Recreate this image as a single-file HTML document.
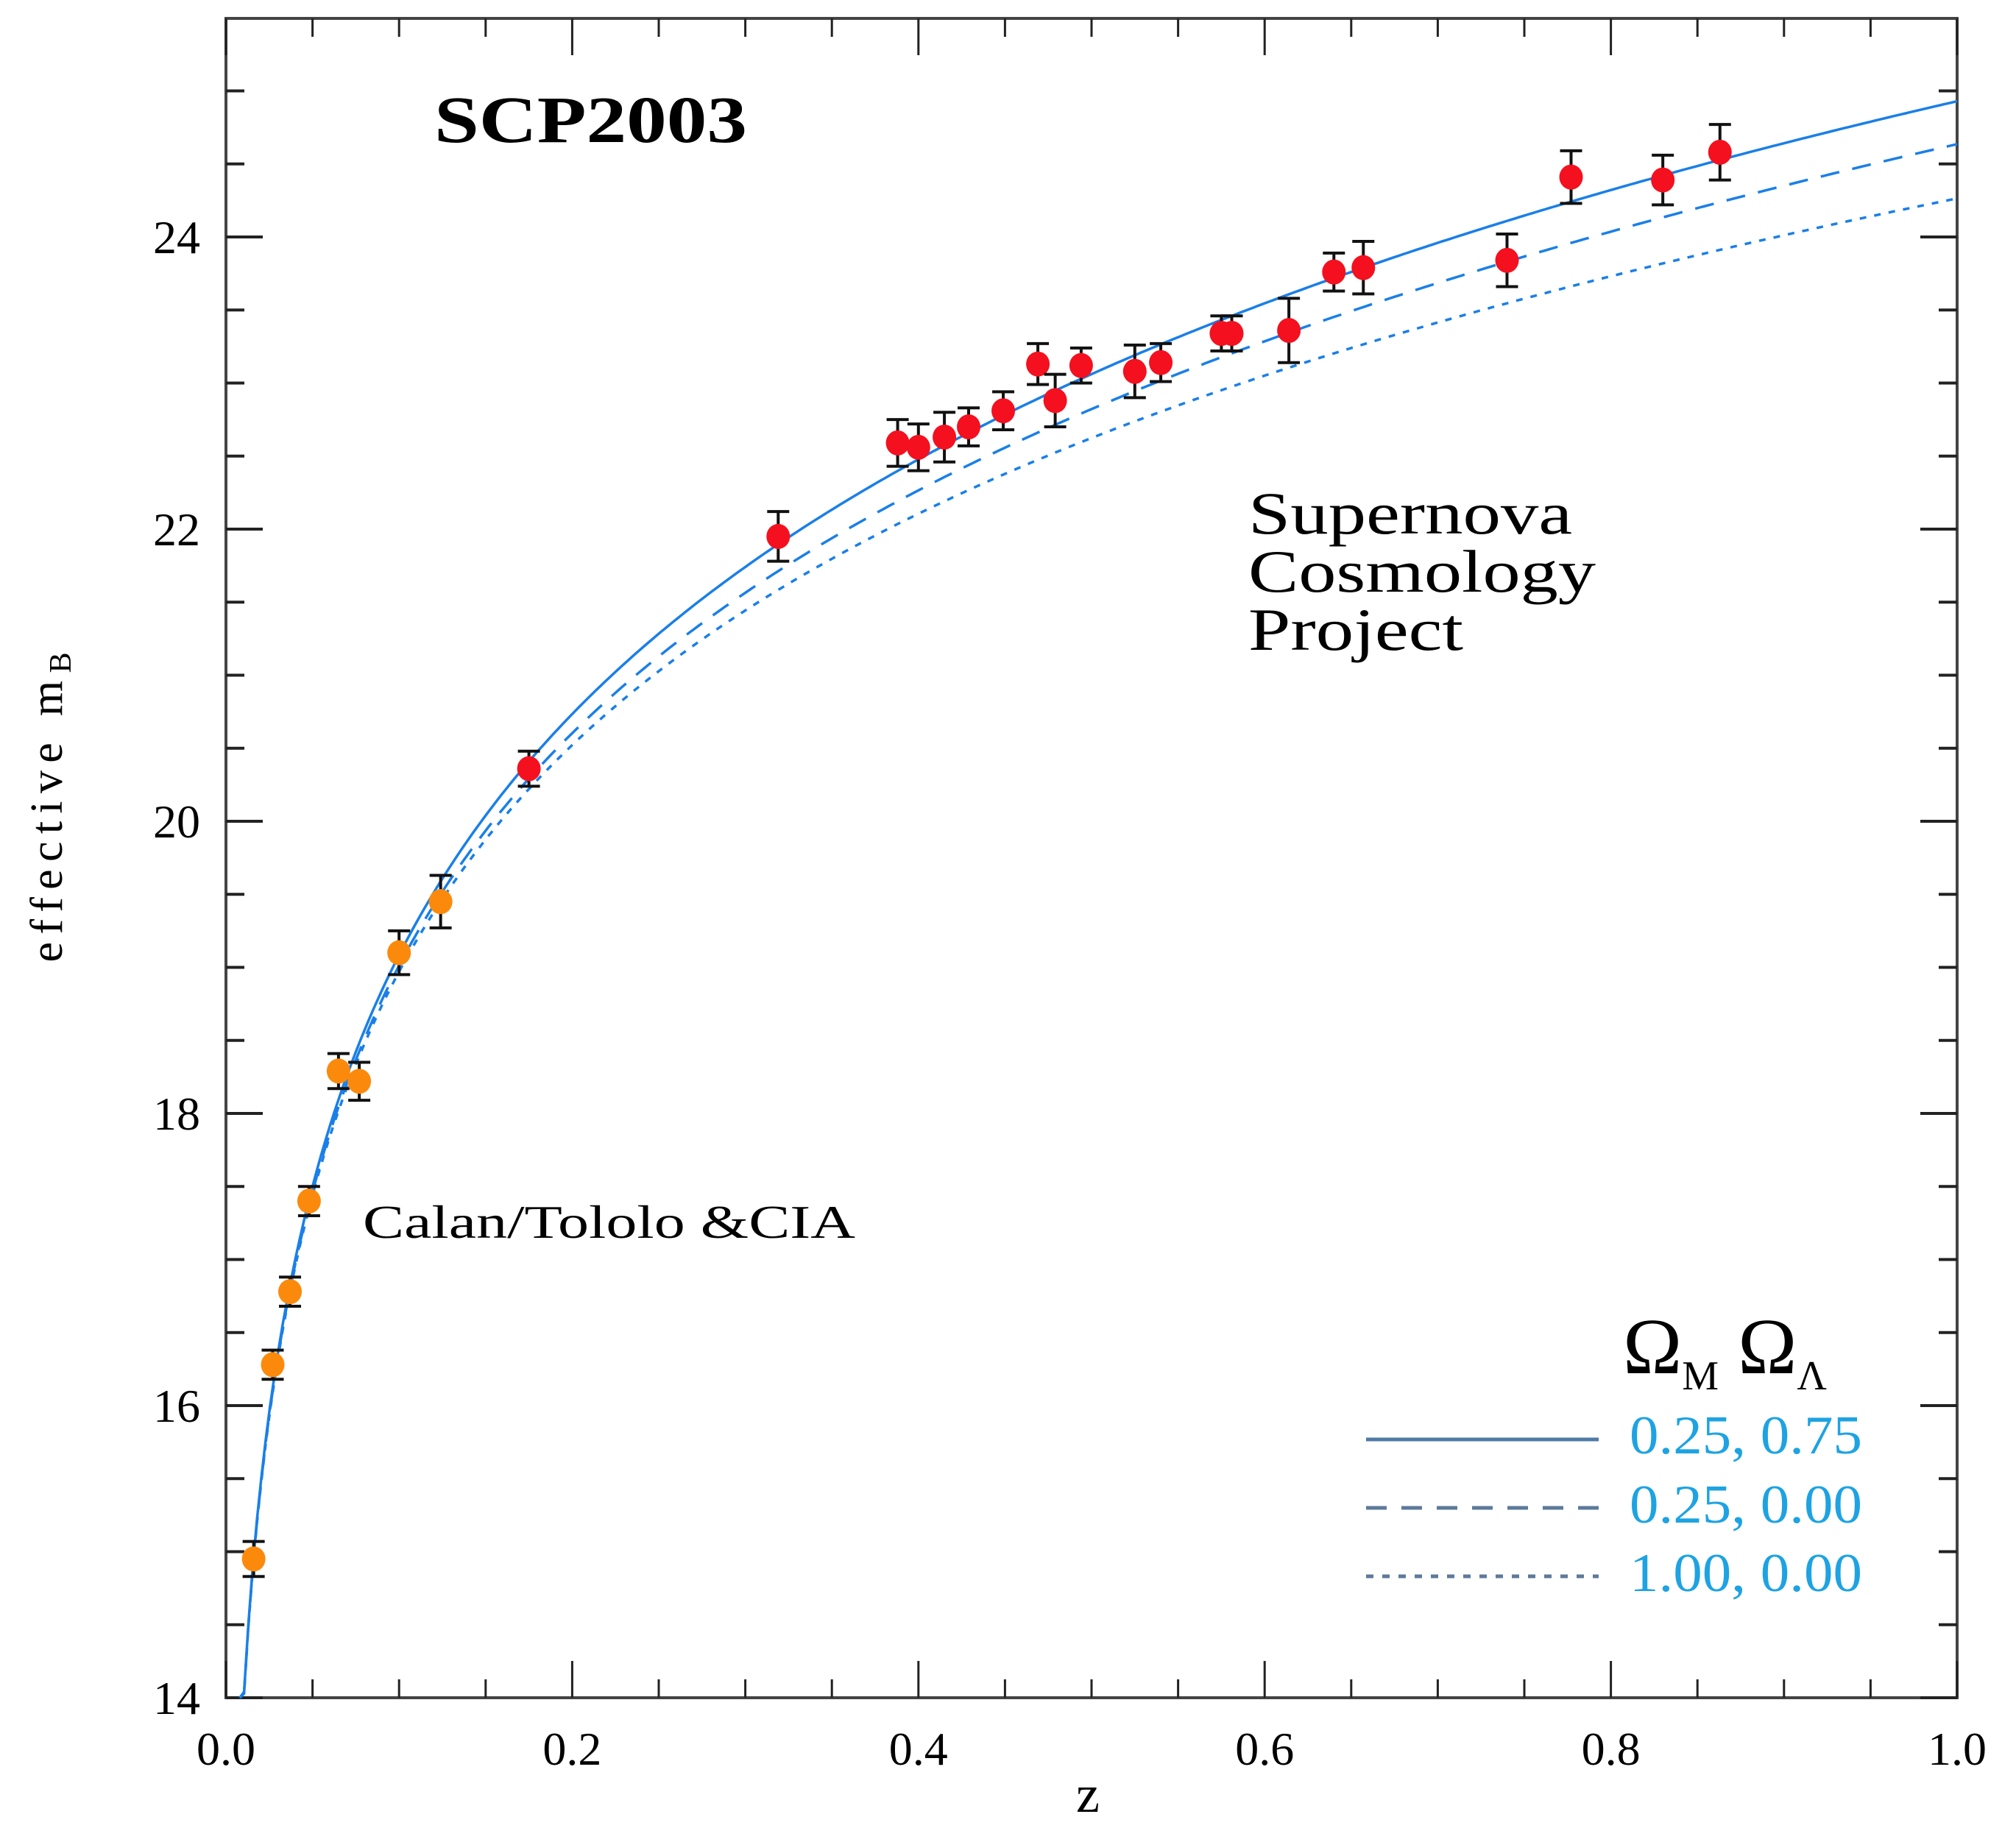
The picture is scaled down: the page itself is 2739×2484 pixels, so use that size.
<!DOCTYPE html>
<html><head><meta charset="utf-8"><title>SCP2003 Hubble diagram</title>
<style>html,body{margin:0;padding:0;background:#fff}svg{display:block}text{font-family:"Liberation Serif",serif}</style>
</head><body>
<svg id="chart" width="2739" height="2484" viewBox="0 0 2739 2484" xmlns="http://www.w3.org/2000/svg">
<rect x="0" y="0" width="2739" height="2484" fill="#fff"/>
<g id="axes"></g><g id="curves"></g><g id="points"></g>
<text x="590" y="193" font-size="90" font-weight="bold" textLength="425" lengthAdjust="spacingAndGlyphs">SCP2003</text>
<text x="1696" y="725" font-size="82" textLength="440" lengthAdjust="spacingAndGlyphs">Supernova</text>
<text x="1696" y="804" font-size="82" textLength="472" lengthAdjust="spacingAndGlyphs">Cosmology</text>
<text x="1696" y="883" font-size="82" textLength="292" lengthAdjust="spacingAndGlyphs">Project</text>
<text x="493" y="1682" font-size="64" textLength="669" lengthAdjust="spacingAndGlyphs">Calan/Tololo &amp;CIA</text>
<text transform="translate(84,1097) rotate(-90)" text-anchor="middle" font-size="62" textLength="421" lengthAdjust="spacing">effective m<tspan font-size="42" dy="12">B</tspan></text>
<text x="1478" y="2462" text-anchor="middle" font-size="72">z</text>
<g>
<text x="2205" y="1866" font-size="108">Ω<tspan font-size="56" dy="22">M</tspan><tspan dx="26" dy="-22">Ω</tspan><tspan font-size="56" dy="22">Λ</tspan></text>
<line x1="1856" y1="1956" x2="2172" y2="1956" stroke="#4f7ba6" stroke-width="5"/>
<line x1="1856" y1="2049" x2="2172" y2="2049" stroke="#5c7a9a" stroke-width="5" stroke-dasharray="28,20"/>
<line x1="1856" y1="2142" x2="2172" y2="2142" stroke="#5c7a9a" stroke-width="5" stroke-dasharray="10,12"/>
<text x="2214" y="1975" font-size="74" fill="#1ea3e2" textLength="316" lengthAdjust="spacingAndGlyphs">0.25, 0.75</text>
<text x="2214" y="2069" font-size="74" fill="#1ea3e2" textLength="316" lengthAdjust="spacingAndGlyphs">0.25, 0.00</text>
<text x="2214" y="2162" font-size="74" fill="#1ea3e2" textLength="316" lengthAdjust="spacingAndGlyphs">1.00, 0.00</text>
</g>
</svg>
<script>
const xTicks = [0.0, 0.2, 0.4, 0.6, 0.8, 1.0];
const xTickLabels = ["0.0", "0.2", "0.4", "0.6", "0.8", "1.0"];
const yTicks = [14, 16, 18, 20, 22, 24];
const yTickLabels = ["14", "16", "18", "20", "22", "24"];
const lowZ = [0.016, 0.027, 0.037, 0.048, 0.065, 0.077, 0.100, 0.124];
const lowM = [14.95, 16.28, 16.78, 17.40, 18.29, 18.22, 19.10, 19.45];
const lowErr = [0.12, 0.10, 0.10, 0.10, 0.12, 0.13, 0.15, 0.18];
const highZ = [0.175, 0.319, 0.388, 0.400, 0.415, 0.429, 0.449, 0.469, 0.479, 0.494, 0.525, 0.540, 0.575, 0.581, 0.614, 0.640, 0.657, 0.740, 0.777, 0.830, 0.863];
const highM = [20.36, 21.95, 22.59, 22.56, 22.63, 22.70, 22.81, 23.13, 22.88, 23.12, 23.08, 23.14, 23.34, 23.34, 23.36, 23.76, 23.79, 23.84, 24.41, 24.39, 24.58];
const highErr = [0.12, 0.17, 0.16, 0.16, 0.17, 0.13, 0.13, 0.14, 0.18, 0.12, 0.18, 0.13, 0.12, 0.12, 0.22, 0.13, 0.18, 0.18, 0.18, 0.17, 0.19];
const modelOmegaM = [0.25, 0.25, 1.00];
const modelOmegaL = [0.75, 0.00, 0.00];
const modelMag0 = 23.92;

const X0 = 307, X1 = 2659, Y14 = 2307, PXU = 198.5, YTOP = 25;
const sx = z => X0 + z * (X1 - X0);
const sy = m => Y14 - (m - 14) * PXU;
const NS = "http://www.w3.org/2000/svg";
function mk(tag, attrs, parent) { const e = document.createElementNS(NS, tag); for (const k in attrs) e.setAttribute(k, attrs[k]); parent.appendChild(e); return e; }

const axes = document.getElementById('axes');
const frame = mk('rect', {x: X0, y: YTOP, width: X1 - X0, height: Y14 - YTOP, fill: 'none', stroke: '#444', 'stroke-width': 4}, axes);


for (let i = 0; i <= 20; i++) {
  const z = i * 0.05, x = sx(z), L = (i % 4 === 0) ? 50 : 25;
  const t1 = mk('line', {x1: x, y1: Y14, x2: x, y2: Y14 - L, stroke: '#222', 'stroke-width': 3}, axes);
  
  
  const t2 = mk('line', {x1: x, y1: YTOP, x2: x, y2: YTOP + L, stroke: '#222', 'stroke-width': 3}, axes);
  
  
}
for (let i = 0; i <= 22; i++) {
  const m = 14 + i * 0.5, y = sy(m);
  if (y < YTOP) continue;
  const L = (i % 4 === 0) ? 50 : 25;
  const t1 = mk('line', {x1: X0, y1: y, x2: X0 + L, y2: y, stroke: '#222', 'stroke-width': 4}, axes);
  
  
  const t2 = mk('line', {x1: X1, y1: y, x2: X1 - L, y2: y, stroke: '#222', 'stroke-width': 4}, axes);
  
  
}
xTicks.forEach((z, i) => {
  const t = mk('text', {x: sx(z), y: 2398, 'text-anchor': 'middle', 'font-size': 64}, axes);
  t.textContent = xTickLabels[i];
  
  
});
yTicks.forEach((m, i) => {
  const t = mk('text', {x: 272, y: sy(m) + 22, 'text-anchor': 'end', 'font-size': 64}, axes);
  t.textContent = yTickLabels[i];
  
  
});

function lumDist(z, om, ol) {
  const ok = 1 - om - ol, n = 200; let s = 0;
  for (let i = 0; i < n; i++) {
    const zz = (i + 0.5) * z / n;
    s += 1 / Math.sqrt(om * Math.pow(1 + zz, 3) + ok * Math.pow(1 + zz, 2) + ol);
  }
  s *= z / n;
  let dc = s;
  if (ok > 1e-6) dc = Math.sinh(Math.sqrt(ok) * s) / Math.sqrt(ok);
  else if (ok < -1e-6) dc = Math.sin(Math.sqrt(-ok) * s) / Math.sqrt(-ok);
  return (1 + z) * dc;
}
const curves = document.getElementById('curves');
const dashes = ['none', '26,18', '9,11'];
const curveNames = ['model-curve-flat-lambda', 'model-curve-open', 'model-curve-einstein-de-sitter'];
modelOmegaM.forEach((om, k) => {
  let d = '';
  for (let i = 0; i <= 400; i++) {
    const z = 0.008 + i * (1 - 0.008) / 400;
    const m = modelMag0 + 5 * Math.log10(lumDist(z, om, modelOmegaL[k]));
    const y = Math.min(sy(m), Y14);
    d += (i ? 'L' : 'M') + sx(z).toFixed(1) + ',' + y.toFixed(1);
  }
  const p = mk('path', {d: d, fill: 'none', stroke: '#1a7fe8', 'stroke-width': 3.5, 'stroke-dasharray': dashes[k]}, curves);
  
  
});

const pts = document.getElementById('points');
function drawSet(zs, ms, es, color, name) {
  zs.forEach((z, i) => {
    const x = sx(z), y = sy(ms[i]), e = es[i] * PXU;
    const g = mk('g', {}, pts);
    
    
    mk('line', {x1: x, y1: y - e, x2: x, y2: y + e, stroke: '#111', 'stroke-width': 4}, g);
    mk('line', {x1: x - 15, y1: y - e, x2: x + 15, y2: y - e, stroke: '#111', 'stroke-width': 4}, g);
    mk('line', {x1: x - 15, y1: y + e, x2: x + 15, y2: y + e, stroke: '#111', 'stroke-width': 4}, g);
    mk('ellipse', {cx: x, cy: y, rx: 16, ry: 17, fill: color}, g);
  });
}
drawSet(lowZ, lowM, lowErr, '#fb8a0c', 'low-z-supernova');
drawSet(highZ, highM, highErr, '#f4101e', 'high-z-supernova');
</script>
</body></html>
